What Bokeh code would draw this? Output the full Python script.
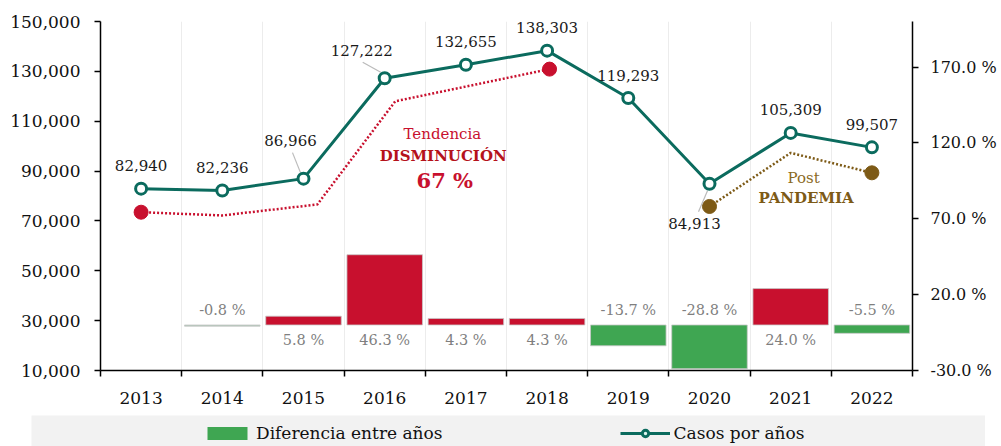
from bokeh.plotting import figure
from bokeh.models import (LinearAxis, Range1d, FixedTicker, NumeralTickFormatter, Legend,
                          LegendItem, Label, ColumnDataSource, Spacer)
from bokeh.layouts import column, row
from bokeh.core.properties import value
from bokeh.embed import file_html
from bokeh.resources import INLINE

# ---------------- data ----------------
years = [2013, 2014, 2015, 2016, 2017, 2018, 2019, 2020, 2021, 2022]
casos = [82940, 82236, 86966, 127222, 132655, 138303, 119293, 84913, 105309, 99507]
dif_years = [2014, 2015, 2016, 2017, 2018, 2019, 2020, 2021, 2022]
diferencia = [-0.8, 5.8, 46.3, 4.3, 4.3, -13.7, -28.8, 24.0, -5.5]
trend_years = [2013, 2014, 2015.17, 2016.13, 2018.03]
trend_vals = [73500, 72200, 76600, 118000, 130900]
post_years = [2020, 2021, 2022]
post_vals = [75800, 97300, 89300]
left_ticks = [10000, 30000, 50000, 70000, 90000, 110000, 130000, 150000]
right_ticks = [-30, 20, 70, 120, 170]

# ---------------- style ----------------
FONT = "DejaVu Serif"
TEAL = "#0B6B5E"
RED = "#C8102E"
GREEN = "#3FA652"
BROWN = "#7D5A16"
bar_colors = ["#A9C4B2", RED, RED, RED, RED, GREEN, GREEN, RED, GREEN]
# label offsets in screen px (dx, dy up)
lab_dx = [0, 0, -13, -23, 0, 0, 0, -15, 0, 0]
lab_dy = [23, 23, 38, 28, 23, 23, 23, -40, 23, 23]

p = figure(width=1001, height=415, x_range=Range1d(2012.5, 2022.5),
           y_range=Range1d(10000, 150000), output_backend="svg", toolbar_location=None,
           min_border_left=100, min_border_right=89, min_border_top=21, min_border_bottom=45)
p.extra_y_ranges = {"pct": Range1d(-30, 200)}
p.outline_line_color = None
p.background_fill_color = "white"
p.border_fill_color = "white"

# x axis: labels at centers, ticks at boundaries
boundaries = [y - 0.5 for y in years] + [years[-1] + 0.5]
xa = p.xaxis[0]
xa.ticker = FixedTicker(ticks=years, minor_ticks=boundaries)
xa.major_tick_out = 0
xa.major_tick_in = 0
xa.minor_tick_out = 6
xa.minor_tick_in = 0
xa.minor_tick_line_color = "black"
xa.major_label_standoff = 15
xa.major_label_text_font = FONT
xa.major_label_text_font_size = "17px"
xa.major_label_text_color = "#111111"
xa.axis_line_width = 1.5
xa.minor_tick_line_width = 1.5
xa.major_label_overrides = {y: str(y) for y in years}

ya = p.yaxis[0]
ya.ticker = FixedTicker(ticks=left_ticks)
ya.formatter = NumeralTickFormatter(format="0,0")
ya.major_tick_out = 6
ya.major_tick_in = 0
ya.minor_tick_out = 0
ya.minor_tick_in = 0
ya.major_label_standoff = 14
ya.major_label_text_font = FONT
ya.major_label_text_font_size = "17px"
ya.major_label_text_color = "#111111"
ya.axis_line_width = 1.5
ya.major_tick_line_width = 1.5

ra = LinearAxis(y_range_name="pct")
ra.ticker = FixedTicker(ticks=right_ticks)
ra.major_label_overrides = {t: f"{t:.1f} %" for t in right_ticks}
ra.major_tick_out = 6
ra.major_tick_in = 0
ra.minor_tick_out = 0
ra.minor_tick_in = 0
ra.major_label_standoff = 12
ra.major_label_text_font = FONT
ra.major_label_text_font_size = "16px"
ra.major_label_text_color = "#111111"
ra.axis_line_width = 1.5
ra.major_tick_line_width = 1.5
p.add_layout(ra, "right")

p.ygrid.grid_line_color = None
p.xgrid.ticker = FixedTicker(ticks=boundaries[1:-1])
p.xgrid.grid_line_color = "#ECECEC"
p.xgrid.grid_line_width = 1

# bars
bar_src = ColumnDataSource(dict(x=dif_years, top=diferencia, color=bar_colors))
p.vbar(x="x", top="top", bottom=0, width=0.93, source=bar_src, fill_color="color",
       line_color="#C8C8C8", line_width=0.8, y_range_name="pct")
bl_off = [15 if v < 0 else -15 for v in diferencia]
bar_lab = ColumnDataSource(dict(x=dif_years, y=[0] * len(diferencia),
                                t=[f"{v:.1f} %" for v in diferencia],
                                yo=[-o for o in bl_off]))
p.text(x="x", y="y", text="t", source=bar_lab, y_range_name="pct", y_offset="yo",
       text_align="center", text_baseline="middle", text_font=value(FONT),
       text_font_size="14.5px", text_color="#7F7F7F")

# trend lines
p.line(trend_years, trend_vals, line_color=RED, line_width=2.5, line_dash="2 2")
p.scatter([trend_years[0], trend_years[-1]], [trend_vals[0], trend_vals[-1]], size=14,
          fill_color=RED, line_color=RED)
p.line(post_years, post_vals, line_color=BROWN, line_width=2.5, line_dash="2 2")
p.scatter([post_years[0], post_years[-1]], [post_vals[0], post_vals[-1]], size=14,
          fill_color=BROWN, line_color=BROWN)

# leader lines (pixel offsets converted via scale)
PX_X = 812 / 10.0
PX_Y = 349 / 140000.0
leaders = {2: (-11, 26, -3, 6), 3: (-22, 16, -4, 6), 7: (-11, -28, -2, -7)}
lx0, ly0, lx1, ly1 = [], [], [], []
for i, (a, b, c, d) in leaders.items():
    lx0.append(years[i] + a / PX_X)
    ly0.append(casos[i] + b / PX_Y)
    lx1.append(years[i] + c / PX_X)
    ly1.append(casos[i] + d / PX_Y)
p.segment(lx0, ly0, lx1, ly1, line_color="#BBBBBB", line_width=1.2)

# main line
p.line(years, casos, line_color=TEAL, line_width=3)
p.scatter(years, casos, size=11, fill_color="white", line_color=TEAL, line_width=3)

lab_src = ColumnDataSource(dict(x=years, y=casos, t=[f"{v:,}" for v in casos],
                                xo=lab_dx, yo=[-d for d in lab_dy]))
p.text(x="x", y="y", text="t", source=lab_src, x_offset="xo", y_offset="yo",
       text_align="center", text_baseline="middle", text_font=value(FONT),
       text_font_size="15px", text_color="#1A1A1A")

# annotations
for txt, x, y, col, style, size in [
    ("Tendencia", 2016.71, 105070, RED, "normal", "15px"),
    ("DISMINUCIÓN", 2016.72, 96240, "#B5121B", "bold", "15px"),
    ("67 %", 2016.74, 86200, RED, "bold", "21px"),
    ("Post", 2021.16, 87400, "#8B6B1F", "normal", "15px"),
    ("PANDEMIA", 2021.19, 79000, BROWN, "bold", "15px"),
]:
    p.add_layout(Label(x=x, y=y, text=txt, text_color=col, text_font=FONT,
                       text_font_style=style, text_font_size=size,
                       text_align="center", text_baseline="middle"))

# legend strip (second figure)
p2 = figure(width=954, height=31, x_range=Range1d(0, 1), y_range=Range1d(0, 1),
            output_backend="svg", toolbar_location=None,
            x_axis_location=None, y_axis_location=None,
            min_border_left=0, min_border_right=0, min_border_top=0, min_border_bottom=0)
p2.grid.visible = False
p2.outline_line_color = None
p2.background_fill_color = "#F2F2F2"
p2.border_fill_color = "#F2F2F2"
dummy = dict(x=[-5], y=[-5])
d_bar = p2.vbar(x="x", top="y", width=0.9, source=ColumnDataSource(dummy),
                fill_color=GREEN, line_color=None)
d_line = p2.line(x="x", y="y", source=ColumnDataSource(dummy), line_color=TEAL, line_width=3)
d_sc = p2.scatter(x="x", y="y", source=ColumnDataSource(dummy), fill_color="#DFF5EF",
                  line_color=TEAL, line_width=3)
legend = Legend(items=[LegendItem(label="Diferencia entre años", renderers=[d_bar]),
                       LegendItem(label="Casos por años", renderers=[d_line, d_sc])],
                location=(171, 3), orientation="horizontal", glyph_width=50,
                glyph_height=16, label_standoff=4, spacing=177, padding=0, margin=0,
                background_fill_alpha=0, border_line_alpha=0,
                label_text_font=FONT, label_text_font_size="17px",
                label_text_color="#111111")
p2.add_layout(legend)

layout = column(p, row(Spacer(width=31, height=31), p2, spacing=0), spacing=0)
open("out.html", "w").write(file_html(layout, INLINE))
